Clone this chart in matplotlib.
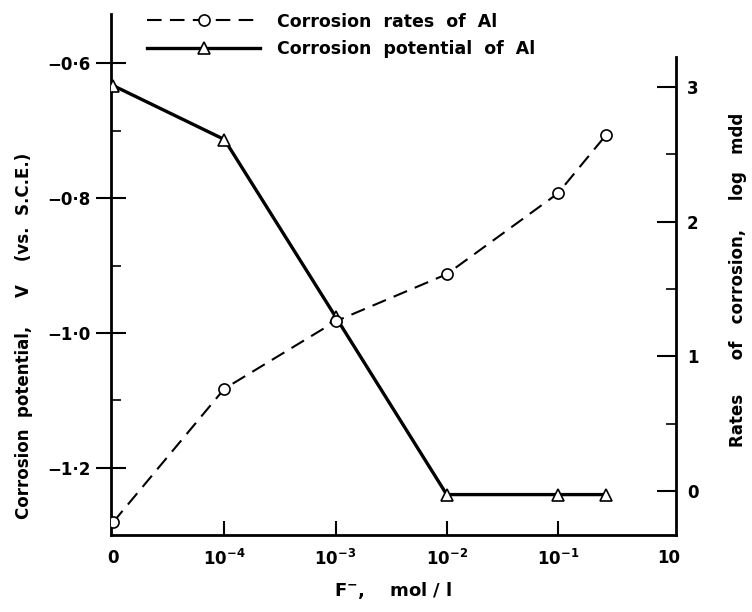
import matplotlib.pyplot as plt
from matplotlib.lines import Line2D
from matplotlib.ticker import FixedLocator

# x positions are category slots: 0, 1e-4, 1e-3, 1e-2, 1e-1, (last point), 10
x_labels = ['0', '$\\mathbf{10^{-4}}$', '$\\mathbf{10^{-3}}$', '$\\mathbf{10^{-2}}$',
            '$\\mathbf{10^{-1}}$', '10']
x_pos = [0, 1, 2, 3, 4, 4.43]

potential = [-0.633, -0.713, -0.976, -1.240, -1.240, -1.240]   # V vs S.C.E.
rates = [-0.23, 0.76, 1.26, 1.61, 2.21, 2.64]                    # log mdd

left_ticks = [-0.6, -0.8, -1.0, -1.2]
left_labels = ['\u22120\u00b76', '\u22120\u00b78', '\u22121\u00b70', '\u22121\u00b72']
right_ticks = [0, 1, 2, 3]

plt.rcParams['font.family'] = ['DejaVu Sans']
plt.rcParams['font.weight'] = 'bold'
plt.rcParams['axes.labelweight'] = 'bold'
plt.rcParams['mathtext.default'] = 'bf'

fig = plt.figure(figsize=(7.52, 6.12), dpi=100)
ax = fig.add_axes([0.1476, 0.1258, 0.751, 0.851])
ax2 = ax.twinx()

ax.plot(x_pos, potential, color='black', lw=2.4, marker='^', ms=8,
        mfc='white', mec='black', mew=1.2, zorder=3)
ax2.plot(x_pos, rates, color='black', lw=1.5, dashes=(7, 4), marker='o', ms=8,
         mfc='white', mec='black', mew=1.2, zorder=3)

ax.set_xlim(-0.02, 5.06)
ax.set_ylim(-1.30, -0.527)
ax2.set_ylim(-0.326, 3.54)

for a in (ax, ax2):
    a.spines['top'].set_visible(False)
ax.spines['right'].set_visible(False)
ax2.spines['left'].set_visible(False)
ax2.spines['bottom'].set_visible(False)
ax2.spines['right'].set_bounds(-0.326, 3.22)
for s in ('left', 'bottom'):
    ax.spines[s].set_linewidth(2)
ax2.spines['right'].set_linewidth(2)

ax.set_xticks(range(6))
ax.set_xticklabels(x_labels, fontsize=12)
ax.tick_params(axis='x', direction='in', length=10, width=1.5, pad=10)
for i, t in enumerate(ax.xaxis.get_major_ticks()):
    if i in (0, 5):
        t.tick1line.set_visible(False)

ax.set_yticks(left_ticks)
ax.set_yticklabels(left_labels, fontsize=12)
ax.yaxis.set_minor_locator(FixedLocator([-0.7, -0.9, -1.1]))
ax.tick_params(axis='y', which='major', direction='inout', length=22, width=1.5)
ax.tick_params(axis='y', which='minor', direction='in', length=7, width=1.2)

ax2.set_yticks(right_ticks)
ax2.set_yticklabels([str(v) for v in right_ticks], fontsize=12)
ax2.yaxis.set_minor_locator(FixedLocator([0.5, 1.5, 2.5]))
ax2.tick_params(axis='y', which='major', direction='in', length=14, width=1.5, pad=8)
ax2.tick_params(axis='y', which='minor', direction='in', length=7, width=1.2)

ax.set_ylabel('Corrosion  potential,     V    (vs.  S.C.E.)', fontsize=12)
ax.yaxis.set_label_coords(-0.138, 0.382)
ax2.set_ylabel('Rates      of   corrosion,     log   mdd', fontsize=12)
ax2.yaxis.set_label_coords(1.095, 0.489)
ax.set_xlabel('F$^{-}$,    mol / l', fontsize=13, labelpad=8)

handles = [
    Line2D([], [], color='black', lw=1.5, dashes=(7, 4), marker='o', ms=8,
           mfc='white', mec='black', mew=1.2),
    Line2D([], [], color='black', lw=2.4, marker='^', ms=8,
           mfc='white', mec='black', mew=1.2),
]
fig.legend(handles, ['Corrosion  rates  of  Al', 'Corrosion  potential  of  Al'],
           loc='upper left', bbox_to_anchor=(0.175, 1.005), frameon=False,
           fontsize=12.5, handlelength=6.5, handletextpad=1.0, labelspacing=0.55)

fig.savefig('out.png', dpi=100)
